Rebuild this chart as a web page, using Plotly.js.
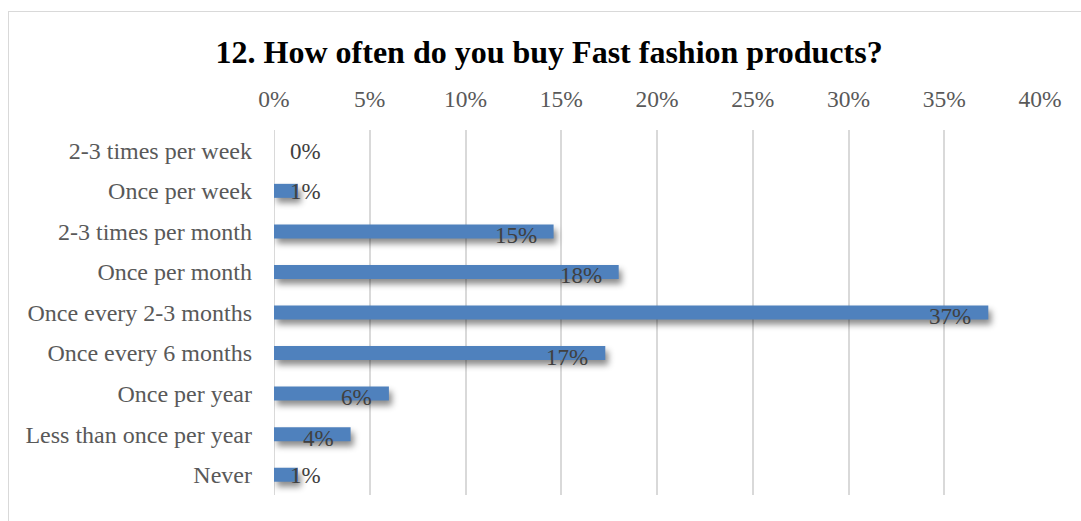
<!DOCTYPE html>
<html>
<head>
<meta charset="utf-8">
<script src="https://cdn.plot.ly/plotly-3.0.1.min.js"></script>
<style>
  html, body { margin: 0; padding: 0; background: #fff; overflow: hidden; }
  #wrap { position: relative; width: 1081px; height: 521px; }
  #frame { position: absolute; left: 8px; top: 11px; width: 1200px; height: 700px;
           border: 1px solid #d9d9d9; box-sizing: border-box; pointer-events: none; }
  #chart { position: absolute; left: 0; top: 0; width: 1081px; height: 521px; }
  .trace.bars .point path { filter: drop-shadow(3px 5px 3px rgba(0,0,0,0.45)); }
</style>
</head>
<body>
<div id="wrap">
  <div id="chart"></div>
  <div id="frame"></div>
</div>
<script>
const categories = [
  "2-3 times per week",
  "Once per week",
  "2-3 times per month",
  "Once per month",
  "Once every 2-3 months",
  "Once every 6 months",
  "Once per year",
  "Less than once per year",
  "Never"
];
const shares = [0.0, 0.0125, 0.146, 0.180, 0.373, 0.173, 0.060, 0.040, 0.0125];
const xTickVals = [0, 0.05, 0.10, 0.15, 0.20, 0.25, 0.30, 0.35, 0.40];
const xTickText = ["0%", "5%", "10%", "15%", "20%", "25%", "30%", "35%", "40%"];
const chartTitle = "12. How often do you buy Fast fashion products?";

const W = 1081, H = 521;
const margin = { l: 274, r: 41, t: 130, b: 26 };
const xMax = 0.40;
const plotW = W - margin.l - margin.r;
const serif = "'Liberation Serif', 'Times New Roman', serif";

const annotations = shares.map((v, i) => {
  const label = Math.round(v * 100) + "%";
  const barPx = v / xMax * plotW;
  const fits = barPx >= 16 + 32 + 15;
  return fits
    ? { x: v, y: categories[i], xref: "x", yref: "y", text: label, showarrow: false,
        xanchor: "right", xshift: -15, yshift: -4, font: { family: serif, size: 23, color: "#404040" } }
    : { x: 0, y: categories[i], xref: "x", yref: "y", text: label, showarrow: false,
        xanchor: "left", xshift: 14, yshift: -1, font: { family: serif, size: 23, color: "#404040" } };
});

const trace = {
  type: "bar",
  orientation: "h",
  x: shares,
  y: categories,
  marker: { color: "#4F81BD" },
  hoverinfo: "none"
};

const layout = {
  width: W, height: H,
  margin: margin,
  paper_bgcolor: "rgba(0,0,0,0)",
  plot_bgcolor: "rgba(0,0,0,0)",
  showlegend: false,
  bargap: 0.655,
  title: {
    text: "<b>" + chartTitle + "</b>",
    font: { family: serif, size: 32, color: "#000000" },
    x: 0.508, xanchor: "center", y: 0.9, yanchor: "middle", yref: "container"
  },
  xaxis: {
    side: "top",
    range: [0, xMax],
    tickvals: xTickVals,
    ticktext: xTickText,
    showgrid: true,
    gridcolor: "#D9D9D9",
    gridwidth: 2,
    zeroline: false,
    showline: false,
    ticks: "",
    ticklabelstandoff: 17,
    tickfont: { family: serif, size: 23.5, color: "#595959" },
    fixedrange: true
  },
  yaxis: {
    type: "category",
    categoryorder: "array",
    categoryarray: categories,
    autorange: "reversed",
    showgrid: false,
    zeroline: false,
    showline: false,
    ticks: "",
    ticklabelstandoff: 21,
    tickfont: { family: serif, size: 24, color: "#595959" },
    fixedrange: true
  },
  annotations: annotations,
  shapes: [
    { type: "line", xref: "x", yref: "paper", x0: 0, x1: 0, y0: 0, y1: 1,
      line: { color: "#D9D9D9", width: 2 }, layer: "below" }
  ]
};

Plotly.newPlot("chart", [trace], layout, { displayModeBar: false, staticPlot: true });
</script>
</body>
</html>
